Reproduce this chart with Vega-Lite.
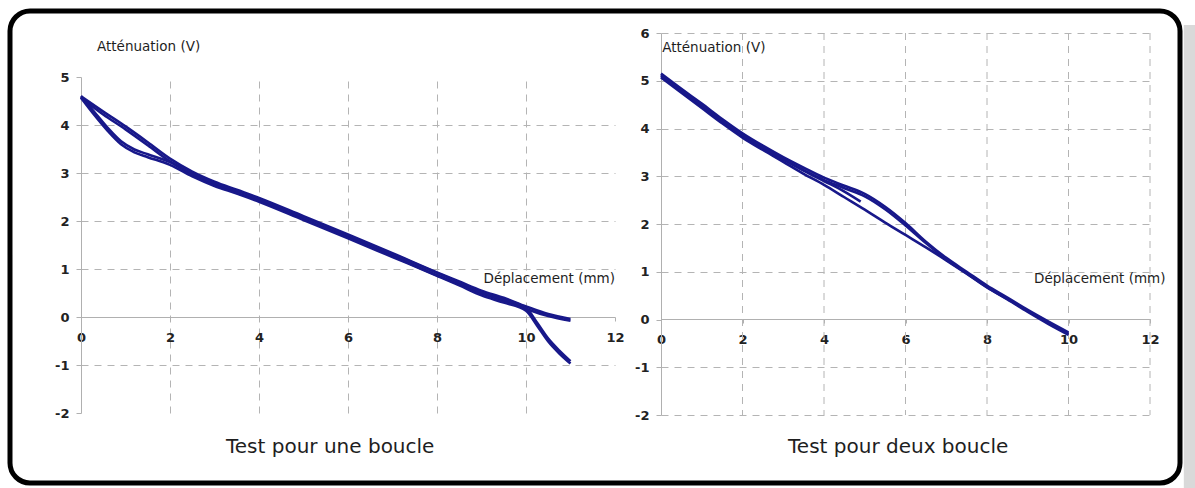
{
  "$schema": "https://vega.github.io/schema/vega-lite/v6.json",
  "width": 1170,
  "height": 472,
  "autosize": {"type": "none"},
  "padding": {"left": 10, "top": 11, "right": 15, "bottom": 5},
  "background": "#ffffff",
  "config": {
    "view": {"stroke": "#000000", "strokeWidth": 5, "cornerRadius": 20, "fill": "#ffffff"},
    "axis": {
      "grid": true,
      "labelFont": "DejaVu Sans",
      "labelFontSize": 13,
      "labelFontWeight": "bold",
      "labelColor": "#222222",
      "labelFlush": false,
      "labelOverlap": false,
      "labelExpr": "'' + datum.value",
      "domainColor": "#b0b0b0",
      "domainWidth": 1,
      "tickColor": "#b0b0b0",
      "tickSize": 5,
      "gridColor": "#b4b4b4",
      "gridDash": [7, 6],
      "gridWidth": 1,
      "title": null
    },
    "text": {"font": "DejaVu Sans", "color": "#1e1e1e"}
  },
  "data": {"values": [
    {"p": "A", "s": "L1", "x": 0, "y": 4.6}, {"p": "A", "s": "L1", "x": 0.5, "y": 4.28}, {"p": "A", "s": "L1", "x": 1, "y": 3.97}, {"p": "A", "s": "L1", "x": 1.5, "y": 3.64}, {"p": "A", "s": "L1", "x": 2, "y": 3.3}, {"p": "A", "s": "L1", "x": 2.5, "y": 3.03}, {"p": "A", "s": "L1", "x": 3, "y": 2.82}, {"p": "A", "s": "L1", "x": 3.5, "y": 2.65}, {"p": "A", "s": "L1", "x": 4, "y": 2.48}, {"p": "A", "s": "L1", "x": 5, "y": 2.1}, {"p": "A", "s": "L1", "x": 6, "y": 1.72}, {"p": "A", "s": "L1", "x": 7, "y": 1.33}, {"p": "A", "s": "L1", "x": 8, "y": 0.93}, {"p": "A", "s": "L1", "x": 8.5, "y": 0.74}, {"p": "A", "s": "L1", "x": 9, "y": 0.55}, {"p": "A", "s": "L1", "x": 9.5, "y": 0.4}, {"p": "A", "s": "L1", "x": 10, "y": 0.22}, {"p": "A", "s": "L1", "x": 10.5, "y": 0.06}, {"p": "A", "s": "L1", "x": 11, "y": -0.04},
    {"p": "A", "s": "L1b", "x": 0, "y": 4.57}, {"p": "A", "s": "L1b", "x": 0.5, "y": 4.22}, {"p": "A", "s": "L1b", "x": 1, "y": 3.91}, {"p": "A", "s": "L1b", "x": 1.5, "y": 3.58}, {"p": "A", "s": "L1b", "x": 2, "y": 3.24}, {"p": "A", "s": "L1b", "x": 2.5, "y": 2.97}, {"p": "A", "s": "L1b", "x": 3, "y": 2.76}, {"p": "A", "s": "L1b", "x": 3.5, "y": 2.59}, {"p": "A", "s": "L1b", "x": 4, "y": 2.42}, {"p": "A", "s": "L1b", "x": 5, "y": 2.04}, {"p": "A", "s": "L1b", "x": 6, "y": 1.66}, {"p": "A", "s": "L1b", "x": 7, "y": 1.27}, {"p": "A", "s": "L1b", "x": 8, "y": 0.87}, {"p": "A", "s": "L1b", "x": 8.5, "y": 0.68}, {"p": "A", "s": "L1b", "x": 9, "y": 0.49}, {"p": "A", "s": "L1b", "x": 9.5, "y": 0.34}, {"p": "A", "s": "L1b", "x": 10, "y": 0.17}, {"p": "A", "s": "L1b", "x": 10.5, "y": 0.02}, {"p": "A", "s": "L1b", "x": 11, "y": -0.08},
    {"p": "A", "s": "L2", "x": 0, "y": 4.6}, {"p": "A", "s": "L2", "x": 0.3, "y": 4.27}, {"p": "A", "s": "L2", "x": 0.6, "y": 3.94}, {"p": "A", "s": "L2", "x": 0.9, "y": 3.66}, {"p": "A", "s": "L2", "x": 1.2, "y": 3.49}, {"p": "A", "s": "L2", "x": 1.5, "y": 3.39}, {"p": "A", "s": "L2", "x": 2, "y": 3.23}, {"p": "A", "s": "L2", "x": 2.5, "y": 2.99}, {"p": "A", "s": "L2", "x": 3, "y": 2.79}, {"p": "A", "s": "L2", "x": 3.5, "y": 2.63}, {"p": "A", "s": "L2", "x": 4, "y": 2.46}, {"p": "A", "s": "L2", "x": 5, "y": 2.08}, {"p": "A", "s": "L2", "x": 6, "y": 1.7}, {"p": "A", "s": "L2", "x": 7, "y": 1.31}, {"p": "A", "s": "L2", "x": 8, "y": 0.92}, {"p": "A", "s": "L2", "x": 8.5, "y": 0.72}, {"p": "A", "s": "L2", "x": 9, "y": 0.51}, {"p": "A", "s": "L2", "x": 9.5, "y": 0.36}, {"p": "A", "s": "L2", "x": 10, "y": 0.19}, {"p": "A", "s": "L2", "x": 10.25, "y": -0.12}, {"p": "A", "s": "L2", "x": 10.5, "y": -0.45}, {"p": "A", "s": "L2", "x": 10.75, "y": -0.7}, {"p": "A", "s": "L2", "x": 11, "y": -0.92},
    {"p": "A", "s": "L2b", "x": 0, "y": 4.57}, {"p": "A", "s": "L2b", "x": 0.3, "y": 4.21}, {"p": "A", "s": "L2b", "x": 0.6, "y": 3.88}, {"p": "A", "s": "L2b", "x": 0.9, "y": 3.6}, {"p": "A", "s": "L2b", "x": 1.2, "y": 3.43}, {"p": "A", "s": "L2b", "x": 1.5, "y": 3.33}, {"p": "A", "s": "L2b", "x": 2, "y": 3.17}, {"p": "A", "s": "L2b", "x": 2.5, "y": 2.93}, {"p": "A", "s": "L2b", "x": 3, "y": 2.73}, {"p": "A", "s": "L2b", "x": 3.5, "y": 2.57}, {"p": "A", "s": "L2b", "x": 4, "y": 2.4}, {"p": "A", "s": "L2b", "x": 5, "y": 2.02}, {"p": "A", "s": "L2b", "x": 6, "y": 1.64}, {"p": "A", "s": "L2b", "x": 7, "y": 1.25}, {"p": "A", "s": "L2b", "x": 8, "y": 0.86}, {"p": "A", "s": "L2b", "x": 8.5, "y": 0.66}, {"p": "A", "s": "L2b", "x": 9, "y": 0.45}, {"p": "A", "s": "L2b", "x": 9.5, "y": 0.3}, {"p": "A", "s": "L2b", "x": 10, "y": 0.13}, {"p": "A", "s": "L2b", "x": 10.25, "y": -0.18}, {"p": "A", "s": "L2b", "x": 10.5, "y": -0.51}, {"p": "A", "s": "L2b", "x": 10.75, "y": -0.76}, {"p": "A", "s": "L2b", "x": 11, "y": -0.97},
    {"p": "B", "s": "R1", "x": 0, "y": 5.15}, {"p": "B", "s": "R1", "x": 0.5, "y": 4.83}, {"p": "B", "s": "R1", "x": 1, "y": 4.52}, {"p": "B", "s": "R1", "x": 1.5, "y": 4.2}, {"p": "B", "s": "R1", "x": 2, "y": 3.9}, {"p": "B", "s": "R1", "x": 2.5, "y": 3.64}, {"p": "B", "s": "R1", "x": 3, "y": 3.4}, {"p": "B", "s": "R1", "x": 3.5, "y": 3.18}, {"p": "B", "s": "R1", "x": 4, "y": 2.97}, {"p": "B", "s": "R1", "x": 4.5, "y": 2.8}, {"p": "B", "s": "R1", "x": 5, "y": 2.63}, {"p": "B", "s": "R1", "x": 5.5, "y": 2.36}, {"p": "B", "s": "R1", "x": 6, "y": 2.02}, {"p": "B", "s": "R1", "x": 6.5, "y": 1.63}, {"p": "B", "s": "R1", "x": 7, "y": 1.29}, {"p": "B", "s": "R1", "x": 7.5, "y": 1.0}, {"p": "B", "s": "R1", "x": 8, "y": 0.71}, {"p": "B", "s": "R1", "x": 8.5, "y": 0.46}, {"p": "B", "s": "R1", "x": 9, "y": 0.2}, {"p": "B", "s": "R1", "x": 9.5, "y": -0.04}, {"p": "B", "s": "R1", "x": 10, "y": -0.27},
    {"p": "B", "s": "R2", "x": 0, "y": 5.07}, {"p": "B", "s": "R2", "x": 0.5, "y": 4.75}, {"p": "B", "s": "R2", "x": 1, "y": 4.43}, {"p": "B", "s": "R2", "x": 1.5, "y": 4.11}, {"p": "B", "s": "R2", "x": 2, "y": 3.81}, {"p": "B", "s": "R2", "x": 2.5, "y": 3.55}, {"p": "B", "s": "R2", "x": 3, "y": 3.3}, {"p": "B", "s": "R2", "x": 3.5, "y": 3.05}, {"p": "B", "s": "R2", "x": 4, "y": 2.82}, {"p": "B", "s": "R2", "x": 4.5, "y": 2.56}, {"p": "B", "s": "R2", "x": 5, "y": 2.3}, {"p": "B", "s": "R2", "x": 5.5, "y": 2.03}, {"p": "B", "s": "R2", "x": 6, "y": 1.77}, {"p": "B", "s": "R2", "x": 6.5, "y": 1.51}, {"p": "B", "s": "R2", "x": 7, "y": 1.24}, {"p": "B", "s": "R2", "x": 7.5, "y": 0.96}, {"p": "B", "s": "R2", "x": 8, "y": 0.67}, {"p": "B", "s": "R2", "x": 8.5, "y": 0.42}, {"p": "B", "s": "R2", "x": 9, "y": 0.16}, {"p": "B", "s": "R2", "x": 9.5, "y": -0.09}, {"p": "B", "s": "R2", "x": 10, "y": -0.32},
    {"p": "B", "s": "R3", "x": 0, "y": 5.1}, {"p": "B", "s": "R3", "x": 0.5, "y": 4.78}, {"p": "B", "s": "R3", "x": 1, "y": 4.47}, {"p": "B", "s": "R3", "x": 1.5, "y": 4.15}, {"p": "B", "s": "R3", "x": 2, "y": 3.85}, {"p": "B", "s": "R3", "x": 2.5, "y": 3.59}, {"p": "B", "s": "R3", "x": 3, "y": 3.35}, {"p": "B", "s": "R3", "x": 3.5, "y": 3.13}, {"p": "B", "s": "R3", "x": 4, "y": 2.92}, {"p": "B", "s": "R3", "x": 4.5, "y": 2.75}, {"p": "B", "s": "R3", "x": 5, "y": 2.58}, {"p": "B", "s": "R3", "x": 5.5, "y": 2.31}, {"p": "B", "s": "R3", "x": 6, "y": 1.97}, {"p": "B", "s": "R3", "x": 6.5, "y": 1.6}, {"p": "B", "s": "R3", "x": 7, "y": 1.26}, {"p": "B", "s": "R3", "x": 7.5, "y": 0.97}, {"p": "B", "s": "R3", "x": 8, "y": 0.68}, {"p": "B", "s": "R3", "x": 8.5, "y": 0.43}, {"p": "B", "s": "R3", "x": 9, "y": 0.18}, {"p": "B", "s": "R3", "x": 9.5, "y": -0.07}, {"p": "B", "s": "R3", "x": 10, "y": -0.3},
    {"p": "B", "s": "R4", "x": 0, "y": 5.12}, {"p": "B", "s": "R4", "x": 0.5, "y": 4.8}, {"p": "B", "s": "R4", "x": 1, "y": 4.49}, {"p": "B", "s": "R4", "x": 1.5, "y": 4.17}, {"p": "B", "s": "R4", "x": 2, "y": 3.87}, {"p": "B", "s": "R4", "x": 2.5, "y": 3.61}, {"p": "B", "s": "R4", "x": 3, "y": 3.36}, {"p": "B", "s": "R4", "x": 3.5, "y": 3.12}, {"p": "B", "s": "R4", "x": 4, "y": 2.9}, {"p": "B", "s": "R4", "x": 4.5, "y": 2.68}, {"p": "B", "s": "R4", "x": 4.9, "y": 2.47}
  ]},
  "layer": [
    {
      "layer": [
        {
          "transform": [{"filter": "datum.p == 'A'"}],
          "mark": {"type": "line", "color": "#18188a", "strokeWidth": 2.6, "interpolate": "monotone"},
          "encoding": {
            "x": {"field": "x", "type": "quantitative",
                  "scale": {"domain": [0, 12], "range": [71, 605], "nice": false, "zero": false},
                  "axis": {"orient": "bottom", "offset": -166, "values": [0, 2, 4, 6, 8, 10, 12], "labelPadding": 10, "tickSize": 4, "grid": true,
                           "gridOpacity": {"condition": {"test": "datum.value == 0 || datum.value == 12", "value": 0}, "value": 1}}},
            "y": {"field": "y", "type": "quantitative",
                  "scale": {"domain": [-2, 5], "range": [402, 66], "nice": false, "zero": false},
                  "axis": {"orient": "left", "offset": -71, "values": [-2, -1, 0, 1, 2, 3, 4, 5], "labelPadding": 7, "grid": true,
                           "gridOpacity": {"condition": {"test": "datum.value == 5 || datum.value == 0 || datum.value == -2", "value": 0}, "value": 1}}},
            "detail": {"field": "s"}
          }
        },
        {
          "data": {"values": [{}]},
          "mark": {"type": "text", "align": "left", "baseline": "middle", "fontSize": 13.5},
          "encoding": {"x": {"datum": 0.36}, "y": {"datum": 5.62}, "text": {"value": "Atténuation (V)"}}
        },
        {
          "data": {"values": [{}]},
          "mark": {"type": "text", "align": "right", "baseline": "middle", "fontSize": 13.5},
          "encoding": {"x": {"datum": 12.0}, "y": {"datum": 0.8}, "text": {"value": "Déplacement (mm)"}}
        },
        {
          "data": {"values": [{}]},
          "mark": {"type": "text", "align": "center", "baseline": "middle", "fontSize": 20},
          "encoding": {"x": {"datum": 5.6}, "y": {"datum": -2.71}, "text": {"value": "Test pour une boucle"}}
        }
      ]
    },
    {
      "layer": [
        {
          "data": {"values": [{}]},
          "mark": {"type": "rect", "color": "#d9d9d9"},
          "encoding": {"x": {"datum": 12.83}, "x2": {"datum": 13.2}, "y": {"datum": 6.17}, "y2": {"datum": -3.6}}
        },
        {
          "data": {"values": [{"g": 2}, {"g": 4}, {"g": 6}, {"g": 8}, {"g": 10}, {"g": 12}]},
          "mark": {"type": "rule", "color": "#b4b4b4", "strokeWidth": 1, "strokeDash": [7, 6]},
          "encoding": {"x": {"field": "g", "type": "quantitative"}, "y": {"datum": 6}, "y2": {"datum": -2}}
        },
        {
          "transform": [{"filter": "datum.p == 'B'"}],
          "mark": {"type": "line", "color": "#18188a", "strokeWidth": 2.6, "interpolate": "monotone"},
          "encoding": {
            "x": {"field": "x", "type": "quantitative",
                  "scale": {"domain": [0, 12], "range": [651, 1140], "nice": false, "zero": false},
                  "axis": {"orient": "bottom", "offset": -164, "values": [0, 2, 4, 6, 8, 10, 12], "labelPadding": 10, "tickSize": 4, "grid": false}},
            "y": {"field": "y", "type": "quantitative",
                  "scale": {"domain": [-2, 6], "range": [404, 22], "nice": false, "zero": false},
                  "axis": {"orient": "left", "offset": -651, "values": [-2, -1, 0, 1, 2, 3, 4, 5, 6], "labelPadding": 7, "grid": true,
                           "gridOpacity": {"condition": {"test": "datum.value == 0", "value": 0}, "value": 1}}},
            "detail": {"field": "s"}
          }
        },
        {
          "data": {"values": [{}]},
          "mark": {"type": "text", "align": "left", "baseline": "middle", "fontSize": 13.5},
          "encoding": {"x": {"datum": 0.03}, "y": {"datum": 5.68}, "text": {"value": "Atténuation (V)"}}
        },
        {
          "data": {"values": [{}]},
          "mark": {"type": "text", "align": "right", "baseline": "middle", "fontSize": 13.5},
          "encoding": {"x": {"datum": 12.38}, "y": {"datum": 0.84}, "text": {"value": "Déplacement (mm)"}}
        },
        {
          "data": {"values": [{}]},
          "mark": {"type": "text", "align": "center", "baseline": "middle", "fontSize": 20},
          "encoding": {"x": {"datum": 5.82}, "y": {"datum": -2.68}, "text": {"value": "Test pour deux boucle"}}
        }
      ]
    }
  ],
  "resolve": {
    "scale": {"x": "independent", "y": "independent"},
    "axis": {"x": "independent", "y": "independent"}
  }
}
